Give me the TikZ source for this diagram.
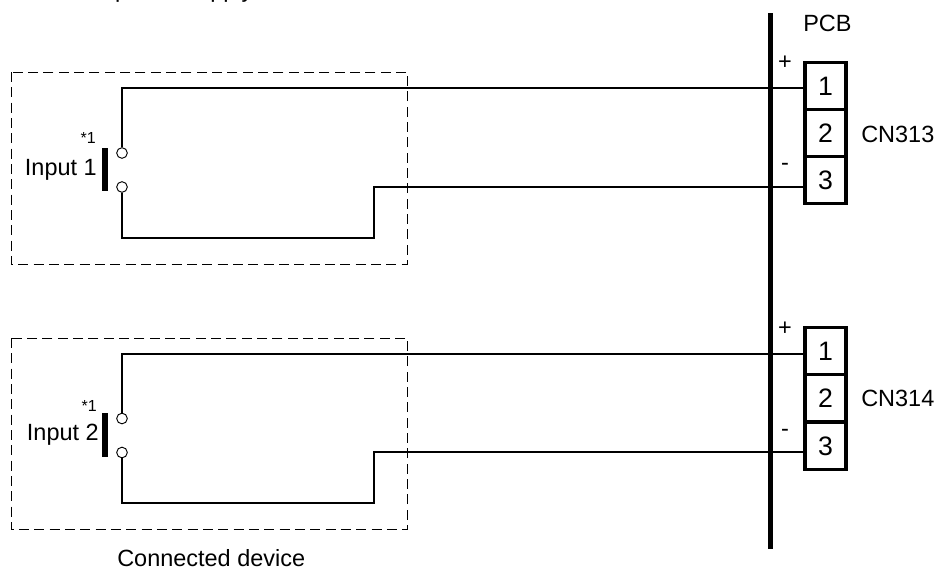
\documentclass[tikz,border=0pt]{standalone}
\usepackage{fontspec}
\setmainfont{Liberation Sans}
\tikzset{
  x=0.75pt,y=-0.75pt,
  wire/.style={line width=1.3pt,black,line join=miter},
  frame/.style={line width=0.75pt,dash pattern=on 7.5pt off 4pt,black},
  term/.style={draw,circle,fill=white,line width=0.7pt,minimum size=8pt,inner sep=0pt},
  contact/.style={draw=none,fill=black,inner sep=0pt,minimum width=4.5pt,minimum height=32.5pt},
  pin/.style={draw,line width=2.6pt,fill=white,minimum width=31pt,minimum height=35.5pt,inner sep=0pt,font=\fontsize{20}{22}\selectfont},
  lab/.style={inner sep=0pt,font=\fontsize{17.6}{20}\selectfont},
  small/.style={inner sep=0pt,font=\fontsize{12}{14}\selectfont}
}
\begin{document}
\begin{tikzpicture}
\useasboundingbox (0,0) rectangle (937,568);
\fill[white] (0,0) rectangle (937,568);
% Dashed frames
\draw[frame] (11,72) rectangle (407.5,264);
\draw[frame] (11,338) rectangle (407.5,529.5);
% Wire corner points
\coordinate (c1a) at (122,88);
\coordinate (c1b) at (122,238);
\coordinate (c1c) at (374,238);
\coordinate (c1d) at (374,187);
\coordinate (c2a) at (122,354);
\coordinate (c2b) at (122,503);
\coordinate (c2c) at (374,503);
\coordinate (c2d) at (374,452);
% Connectors
\node[pin] (a1) at (825.5,86) {1};
\node[pin] (a2) at (825.5,133) {2};
\node[pin] (a3) at (825.5,180) {3};
\node[pin] (b1) at (825.5,351) {1};
\node[pin] (b2) at (825.5,398) {2};
\node[pin] (b3) at (825.5,446) {3};
% Switches
\node[term] (s1t) at (122,153) {};
\node[term] (s1b) at (122,187) {};
\node[term] (s2t) at (122,418.5) {};
\node[term] (s2b) at (122,452.5) {};
\node[contact] (k1) at (105.3,169.7) {};
\node[contact] (k2) at (105.3,435) {};
% Wires
\draw[wire] (s1t) -- (c1a) -- (c1a -| a1.west);
\draw[wire] (s1b) -- (c1b) -- (c1c) -- (c1d) -- (c1d -| a3.west);
\draw[wire] (s2t) -- (c2a) -- (c2a -| b1.west);
\draw[wire] (s2b) -- (c2b) -- (c2c) -- (c2d) -- (c2d -| b3.west);
% PCB rail
\coordinate (railtop) at (770.7,13);
\coordinate (railbot) at (770.7,549);
\draw[line width=4pt] (railtop) -- (railbot);
% Labels
\node[lab,anchor=base east] (i1) at (97,175) {Input 1};
\node[lab,anchor=base east] (i2) at (99,440) {Input 2};
\node[small,anchor=base east] (n1) at (96,143.5) {*1};
\node[small,anchor=base east] (n2) at (97,411.5) {*1};
\node[lab,anchor=base west] (pcb) at (803,31) {PCB};
\node[lab,anchor=base west] (cn1) at (861,142) {CN313};
\node[lab,anchor=base west] (cn2) at (861,406) {CN314};
\node[lab,anchor=center] (p1) at (785,63) {+};
\node[lab,anchor=center] (m1) at (785,167) {-};
\node[lab,anchor=center] (p2) at (785,329) {+};
\node[lab,anchor=center] (m2) at (785,433) {-};
\node[lab,anchor=base west] (cd) at (117,566) {Connected device};
\node[lab,anchor=base west] (top) at (64,-3) {Non-power supply};
\end{tikzpicture}
\end{document}
